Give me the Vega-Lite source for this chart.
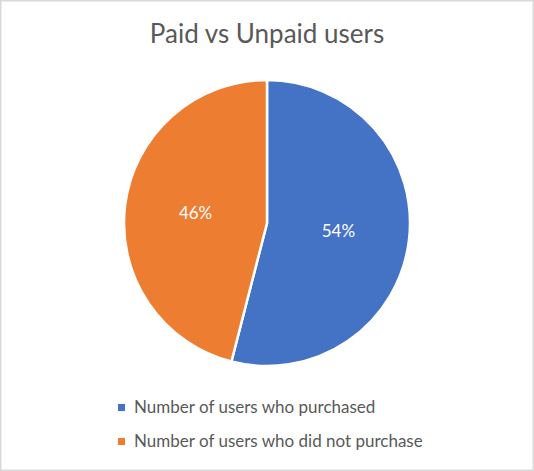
{
  "$schema": "https://vega.github.io/schema/vega-lite/v6.json",
  "width": 534,
  "height": 471,
  "autosize": {"type": "fit", "contains": "padding"},
  "padding": 0,
  "background": "white",
  "view": {"stroke": "#d9d9d9", "strokeWidth": 3, "fill": "white"},
  "config": {
    "view": {"stroke": "#d9d9d9", "strokeWidth": 3},
    "font": "Lato"
  },
  "title": {
    "text": "Paid vs Unpaid users",
    "anchor": "middle",
    "orient": "top",
    "offset": -69,
    "baseline": "alphabetic",
    "font": "Lato",
    "fontSize": 26,
    "fontWeight": "normal",
    "color": "#595959"
  },
  "data": {
    "values": [
      {"category": "Number of users who purchased", "value": 0.54},
      {"category": "Number of users who did not purchase", "value": 0.46}
    ]
  },
  "encoding": {
    "theta": {"field": "value", "type": "quantitative", "stack": true},
    "order": {"field": "value", "type": "quantitative", "sort": "descending"},
    "color": {
      "field": "category",
      "type": "nominal",
      "scale": {
        "domain": ["Number of users who purchased", "Number of users who did not purchase"],
        "range": ["#4472C4", "#ED7D31"]
      },
      "legend": {
        "title": null,
        "orient": "none",
        "legendX": 113,
        "legendY": 399,
        "symbolType": "square",
        "symbolSize": 50,
        "symbolStrokeWidth": 0,
        "labelFont": "Lato",
        "labelFontSize": 17,
        "labelColor": "#595959",
        "rowPadding": 16,
        "labelOffset": 4,
        "labelLimit": 400
      }
    }
  },
  "layer": [
    {
      "mark": {"type": "arc", "radius": 143, "stroke": "white", "strokeWidth": 2.5, "yOffset": -12.5}
    },
    {
      "mark": {"type": "text", "radius": 72, "fill": "white", "fontSize": 17, "font": "Lato", "yOffset": -12.5},
      "encoding": {
        "text": {"field": "value", "type": "quantitative", "format": ".0%"},
        "color": {"value": "white"}
      }
    }
  ]
}
